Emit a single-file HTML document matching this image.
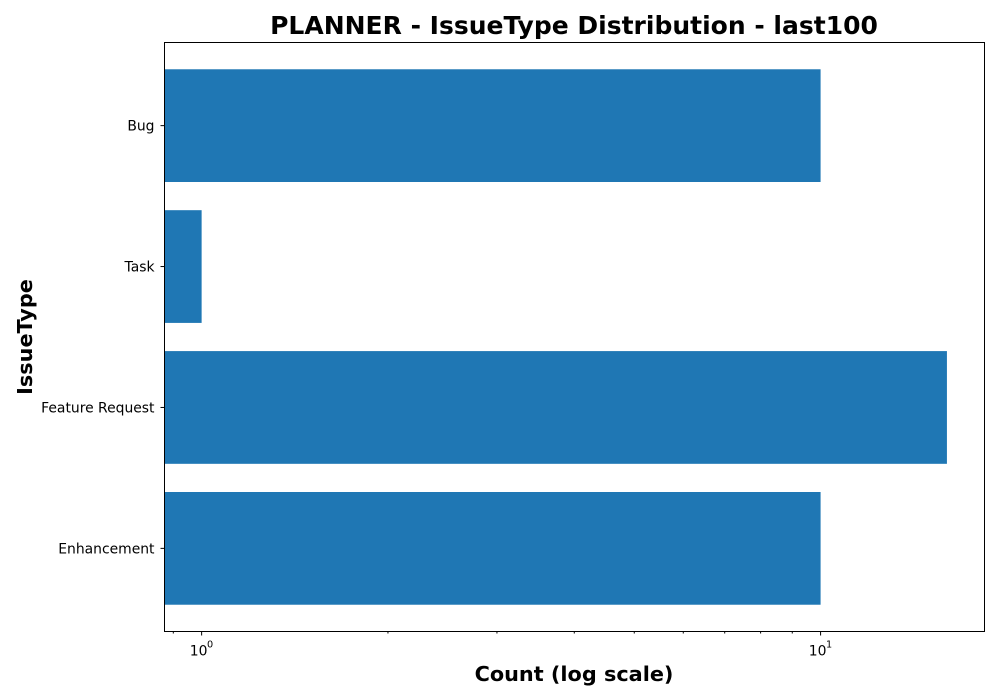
<!DOCTYPE html>
<html><head><meta charset="utf-8"><style>body{margin:0;background:#fff}svg{display:block}text{font-family:"DejaVu Sans","Liberation Sans",sans-serif}</style></head>
<body>
<svg id="chart" width="1000" height="700">
<text x="574" y="34" text-anchor="middle" font-size="25" font-weight="bold">PLANNER - IssueType Distribution - last100</text>
<text x="574" y="681" text-anchor="middle" font-size="20.8" font-weight="bold">Count (log scale)</text>
<text transform="translate(32,337) rotate(-90)" text-anchor="middle" font-size="20.8" font-weight="bold">IssueType</text>
<g id="marks"></g>
<rect x="164.5" y="42.5" width="820" height="589" fill="none" stroke="#000" stroke-width="1"/>
</svg>
<script>
const categories = ["Bug","Task","Feature Request","Enhancement"];
const counts = [10,1,16,10];
const majorTicks = [1,10];
const majorLabels = ["0","1"];
const L=164.5,R=984.5,T=42.5,B=631.5,xmin=0.871,xmax=18.4;
const ns="http://www.w3.org/2000/svg";
const g=document.getElementById('marks');
function x(v){return L+(Math.log10(v)-Math.log10(xmin))/(Math.log10(xmax)-Math.log10(xmin))*(R-L);}
const step=(B-T)/(categories.length+0.18);
function yc(i){return (T+B)/2+(i-(categories.length-1)/2)*step;}
function mk(t,a){const e=document.createElementNS(ns,t);for(const k in a)e.setAttribute(k,a[k]);g.appendChild(e);return e;}
categories.forEach((c,i)=>{
 const r=mk('rect',{x:L,y:yc(i)-step*0.4,width:x(counts[i])-L,height:step*0.8,fill:'#1f77b4'});
 
 
 const tk=mk('line',{x1:L-4,x2:L,y1:yc(i),y2:yc(i),stroke:'#000'});
 
 
 const t=mk('text',{x:L-10,y:yc(i)+5,'text-anchor':'end','font-size':13.9});
 t.textContent=c;
 
 
});
majorTicks.forEach((v,i)=>{
 const tk=mk('line',{x1:x(v),x2:x(v),y1:B,y2:B+4,stroke:'#000'});
 
 
 const t=mk('text',{x:x(v)-3,y:B+24,'text-anchor':'middle','font-size':13.9});
 t.textContent='10';
 
 
 const s=mk('text',{x:x(v)+8.5,y:B+16,'text-anchor':'middle','font-size':9.7});
 s.textContent=majorLabels[i];
 
 
});
for(let d=0.1;d<=10;d*=10)for(let m=2;m<=9;m++){const v=m*d;if(v>xmin&&v<xmax){
 const tk=mk('line',{x1:x(v),x2:x(v),y1:B,y2:B+2,stroke:'#000'});
 
 }}
</script>
</body></html>
